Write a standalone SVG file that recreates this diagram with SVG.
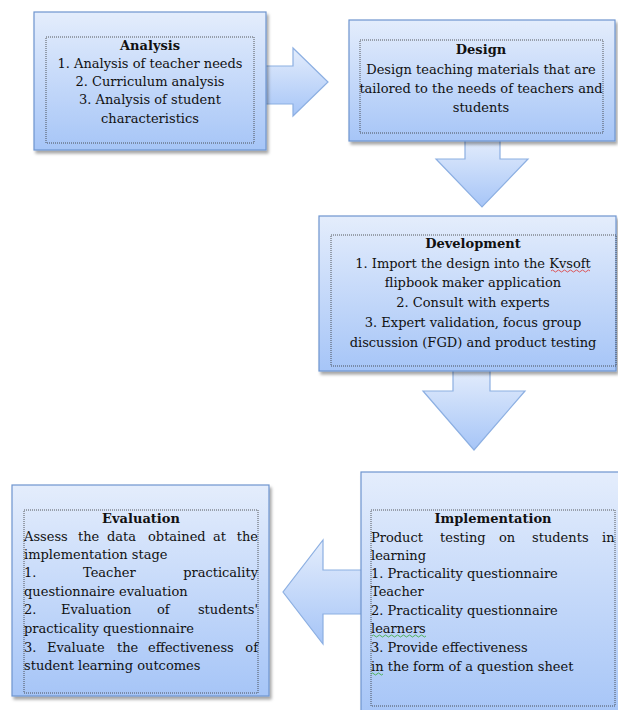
<svg xmlns="http://www.w3.org/2000/svg" width="618" height="710" viewBox="0 0 618 710">
<defs>
<linearGradient id="g" x1="0" y1="0" x2="0" y2="1">
<stop offset="0" stop-color="#e4edfc"/>
<stop offset="1" stop-color="#a6c5f7"/>
</linearGradient>
<filter id="sh" x="-5%" y="-5%" width="115%" height="115%">
<feDropShadow dx="2" dy="3" stdDeviation="1.5" flood-color="#000" flood-opacity="0.35"/>
</filter>
</defs>
<style>
.box{fill:url(#g);stroke:#6e95cf;stroke-width:1.2;filter:url(#sh)}
.arr{fill:url(#g);stroke:#8cafe2;stroke-width:1.2}
.inner{fill:none;stroke:#333;stroke-width:0.8;stroke-dasharray:1 1}
text{font-family:"DejaVu Serif","Liberation Serif",serif;font-size:13px;fill:#111}
.c{text-anchor:middle}
.e{text-anchor:end}
.b{font-weight:bold}
.sq{fill:none;stroke-width:0.8}
</style>
<rect width="618" height="710" fill="#fff"/>
<g id="connectors">
<path class="arr" d="M262,66 H293 V48 L328,82 L293,116 V104 H262 Z"/>
<path class="arr" d="M465,138 V159 H436 L482,207 L528,159 H500 V138 Z"/>
<path class="arr" d="M453,368 V391 H423 L474,450 L525,391 H490 V368 Z"/>
<path class="arr" d="M364,570 H323 V540 L283,592 L323,644 V614 H364 Z"/>
</g>
<g id="analysis">
<rect class="box" x="34" y="12" width="232" height="138"/>
<rect class="inner" x="46" y="37" width="208" height="106"/>
<text class="c b" x="150" y="50">Analysis</text>
<text class="c" x="150" y="68">1. Analysis of teacher needs</text>
<text class="c" x="150" y="86">2. Curriculum analysis</text>
<text class="c" x="150" y="104">3. Analysis of student</text>
<text class="c" x="150" y="123">characteristics</text>
</g>
<g id="design">
<rect class="box" x="349" y="20" width="266" height="121"/>
<rect class="inner" x="360" y="40" width="243" height="93"/>
<text class="c b" x="481" y="54">Design</text>
<text class="c" x="481" y="74">Design teaching materials that are</text>
<text class="c" x="481" y="93">tailored to the needs of teachers and</text>
<text class="c" x="481" y="112">students</text>
</g>
<g id="development">
<rect class="box" x="319" y="216" width="297" height="155"/>
<rect class="inner" x="331" y="235" width="285" height="131"/>
<text class="c b" x="473" y="248">Development</text>
<text class="c" x="473" y="268">1. Import the design into the Kvsoft</text>
<text class="c" x="473" y="287">flipbook maker application</text>
<text class="c" x="473" y="307">2. Consult with experts</text>
<text class="c" x="473" y="327">3. Expert validation, focus group</text>
<text class="c" x="473" y="347">discussion (FGD) and product testing</text>
<path class="sq" stroke="#d33" d="M551,271 q1.5,-2 3,0 t3,0 t3,0 t3,0 t3,0 t3,0 t3,0 t3,0 t3,0 t3,0 t3,0 t3,0 t3,0"/>
</g>
<g id="evaluation">
<rect class="box" x="12" y="485" width="257" height="211"/>
<rect class="inner" x="24" y="510" width="234" height="183"/>
<text class="c b" x="141" y="523">Evaluation</text>
<text x="24" y="541">Assess</text><text x="78" y="541">the</text><text x="107" y="541">data</text><text x="148" y="541">obtained</text><text x="213" y="541">at</text><text class="e" x="258" y="541">the</text>
<text x="24" y="559">implementation stage</text>
<text x="24" y="577">1.</text><text x="83" y="577">Teacher</text><text class="e" x="258" y="577">practicality</text>
<text x="24" y="596">questionnaire evaluation</text>
<text x="24" y="614">2.</text><text x="61" y="614">Evaluation</text><text x="157" y="614">of</text><text class="e" x="258" y="614">students'</text>
<text x="24" y="633">practicality questionnaire</text>
<text x="24" y="652">3.</text><text x="47" y="652">Evaluate</text><text x="117" y="652">the</text><text x="148" y="652">effectiveness</text><text class="e" x="258" y="652">of</text>
<text x="24" y="670">student learning outcomes</text>
</g>
<g id="implementation">
<rect class="box" x="361" y="472" width="262" height="245"/>
<rect class="inner" x="371" y="510" width="244" height="196"/>
<text class="c b" x="493" y="523">Implementation</text>
<text x="371" y="542">Product</text><text x="440" y="542">testing</text><text x="499" y="542">on</text><text x="532" y="542">students</text><text x="602" y="542">in</text>
<text x="371" y="560">learning</text>
<text x="371" y="578">1. Practicality questionnaire</text>
<text x="371" y="596">Teacher</text>
<text x="371" y="615">2. Practicality questionnaire</text>
<text x="371" y="633">learners</text>
<text x="371" y="652">3. Provide effectiveness</text>
<text x="371" y="671">in the form of a question sheet</text>
<path class="sq" stroke="#3a3" d="M372,636 q1.5,-2 3,0 t3,0 t3,0 t3,0 t3,0 t3,0 t3,0 t3,0 t3,0 t3,0 t3,0 t3,0 t3,0 t3,0 t3,0 t3,0 t3,0 t3,0"/>
<path class="sq" stroke="#3a3" d="M371,674 q1.5,-2 3,0 t3,0 t3,0 t3,0"/>
</g>
</svg>
